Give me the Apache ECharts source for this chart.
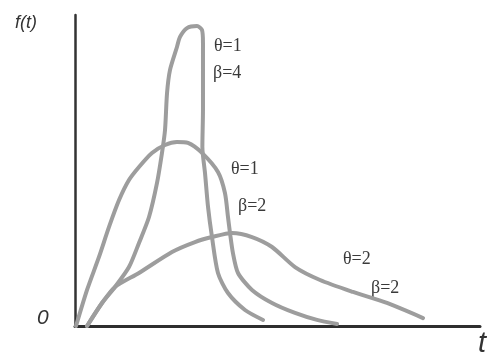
<!DOCTYPE html>
<html>
<head>
<meta charset="utf-8">
<script src="https://cdn.jsdelivr.net/npm/echarts@6/dist/echarts.min.js"></script>
<style>
  html, body { margin: 0; padding: 0; background: #fff; }
  #chart { width: 494px; height: 363px; }
</style>
</head>
<body>
<div id="chart"></div>
<script>
// Weibull density sketches f(t) for three (θ, β) pairs, as [t, f] pairs
const curveTheta1Beta2 = [
  [0.01, 0.0], [0.119, 0.232], [0.237, 0.444], [0.336, 0.637], [0.435, 0.810],
  [0.533, 0.939], [0.632, 1.023], [0.760, 1.113], [0.889, 1.164], [1.007, 1.183],
  [1.116, 1.177], [1.254, 1.113], [1.412, 0.990], [1.481, 0.855], [1.511, 0.701],
  [1.531, 0.598], [1.560, 0.469], [1.610, 0.341], [1.748, 0.232], [1.946, 0.148],
  [2.173, 0.084], [2.390, 0.039], [2.588, 0.013]
];
const curveTheta1Beta4 = [
  [0.119, 0.0], [0.267, 0.148], [0.395, 0.251], [0.533, 0.379], [0.632, 0.534],
  [0.731, 0.701], [0.810, 0.920], [0.859, 1.113], [0.889, 1.260], [0.909, 1.498],
  [0.938, 1.646], [1.007, 1.794], [1.037, 1.859], [1.106, 1.916], [1.205, 1.929],
  [1.254, 1.904], [1.264, 1.820], [1.264, 1.601], [1.264, 1.389], [1.258, 1.151],
  [1.284, 0.984], [1.314, 0.765], [1.353, 0.572], [1.412, 0.341], [1.511, 0.212],
  [1.679, 0.103], [1.857, 0.039]
];
const curveTheta2Beta2 = [
  [0.119, 0.0], [0.267, 0.148], [0.395, 0.251], [0.632, 0.341], [0.958, 0.476],
  [1.185, 0.540], [1.353, 0.572], [1.551, 0.598], [1.748, 0.572], [1.946, 0.508],
  [2.173, 0.379], [2.420, 0.296], [2.746, 0.219], [3.081, 0.148], [3.437, 0.051]
];
const curveLabels = [
  ['θ=1', 'β=4'],
  ['θ=1', 'β=2'],
  ['θ=2', 'β=2']
];
const axisNames = { y: 'f(t)', x: 't', origin: '0' };

const chart = echarts.init(document.getElementById('chart'), null, { renderer: 'canvas' });

const curveStyle = { color: '#9d9d9d', width: 4, cap: 'round', join: 'round' };
const makeCurve = (data) => ({
  type: 'line',
  data: data,
  smooth: 0.25,
  symbol: 'none',
  lineStyle: curveStyle,
  silent: true
});

const serifLabel = (text, x, y) => ({
  type: 'text', left: x, top: y,
  style: { text: text, font: '18px "Liberation Serif", serif', fill: '#3a3a3a' }
});

chart.setOption({
  animation: false,
  backgroundColor: '#fff',
  grid: { left: 75, right: 14, top: 15, bottom: 37 },
  xAxis: {
    type: 'value', min: 0, max: 4,
    axisLine: { show: true, onZero: false, lineStyle: { color: '#2e2e2e', width: 3 } },
    axisTick: { show: false }, axisLabel: { show: false }, splitLine: { show: false }
  },
  yAxis: {
    type: 'value', min: 0, max: 2,
    axisLine: { show: true, onZero: false, lineStyle: { color: '#333', width: 2.5 } },
    axisTick: { show: false }, axisLabel: { show: false }, splitLine: { show: false }
  },
  series: [
    makeCurve(curveTheta1Beta2),
    makeCurve(curveTheta1Beta4),
    makeCurve(curveTheta2Beta2)
  ],
  graphic: [
    { type: 'text', left: 15, top: 14,
      style: { text: axisNames.y, font: 'italic 18px "Liberation Sans", sans-serif', fill: '#333' } },
    { type: 'text', left: 37, top: 308,
      style: { text: axisNames.origin, font: 'italic 21px "Liberation Sans", sans-serif', fill: '#333' } },
    { type: 'text', left: 478, top: 329,
      style: { text: axisNames.x, font: 'italic 29px "Liberation Sans", sans-serif', fill: '#333' } },
    serifLabel(curveLabels[0][0], 214, 37),
    serifLabel(curveLabels[0][1], 213, 64),
    serifLabel(curveLabels[1][0], 231, 160),
    serifLabel(curveLabels[1][1], 238, 197),
    serifLabel(curveLabels[2][0], 343, 250),
    serifLabel(curveLabels[2][1], 371, 279)
  ]
});
</script>
</body>
</html>
